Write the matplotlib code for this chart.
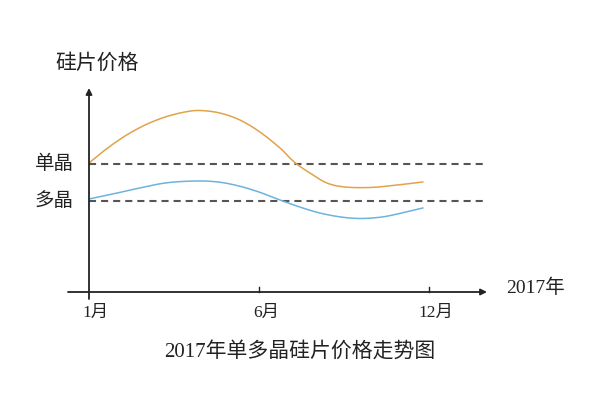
import matplotlib
matplotlib.use('Agg')
import matplotlib.pyplot as plt
import numpy as np

plt.rcParams['font.family'] = ['Liberation Serif', 'Noto Sans CJK SC', 'DejaVu Sans']

# x: position on time axis (1月=0, 6月=5, 12月=10), y: relative price level
mono_x = [0, 0.47, 1.06, 1.65, 2.24, 2.82, 3.26, 3.85, 4.44, 5.03, 5.62, 5.91, 6.15,
          6.5, 7.0, 7.53, 8.26, 8.94, 9.82]
mono_y = [12.9, 14.2, 15.6, 16.7, 17.5, 18.0, 18.15, 17.9, 17.2, 16.0, 14.4, 13.4, 12.7,
          11.9, 10.9, 10.5, 10.45, 10.65, 11.0]
poly_x = [0, 0.7, 1.35, 2.24, 3.12, 3.8, 4.41, 5.0, 5.62, 6.2, 6.79, 7.41, 7.97, 8.5, 8.94, 9.82]
poly_y = [9.3, 9.8, 10.3, 10.9, 11.1, 11.0, 10.6, 10.0, 9.2, 8.5, 7.9, 7.5, 7.35, 7.45, 7.7, 8.4]
ref_levels = [12.8, 9.1]
ref_labels = ['单晶', '多晶']
tick_pos = [0, 5, 10]
tick_labels = ['1月', '6月', '12月']


def smooth(xs, ys, n=20):
    """catmull-rom, only for drawing a soft curve through the read points"""
    p = np.column_stack([xs, ys])
    p = np.vstack([p[0], p, p[-1]])
    out = []
    for i in range(1, len(p) - 2):
        p0, p1, p2, p3 = p[i - 1], p[i], p[i + 1], p[i + 2]
        for t in np.linspace(0, 1, n, endpoint=False):
            t2, t3 = t * t, t * t * t
            out.append(0.5 * (2 * p1 + (-p0 + p2) * t + (2 * p0 - 5 * p1 + 4 * p2 - p3) * t2
                              + (-p0 + 3 * p1 - 3 * p2 + p3) * t3))
    out.append(p[-2])
    out = np.array(out)
    return out[:, 0], out[:, 1]


fig = plt.figure(figsize=(6, 3.99), dpi=100)
ax = fig.add_axes([89 / 600, 107 / 399, 398 / 600, 204 / 399])
ax.set_xlim(0, 11.71)
ax.set_ylim(0, 20.4)
for s in ax.spines.values():
    s.set_visible(False)
ax.set_xticks([])
ax.set_yticks([])

# dashed reference lines
for lv in ref_levels:
    ax.plot([0, 11.6], [lv, lv], color='#555555', lw=1.5, linestyle=(0, (3.4, 2.4)))

sx, sy = smooth(mono_x, mono_y)
ax.plot(sx, sy, color='#E2A24A', lw=1.1)
sx, sy = smooth(poly_x, poly_y)
ax.plot(sx, sy, color='#6CB3DD', lw=1.1)

# axes with arrows
ax.annotate('', xy=(1, 0), xytext=(-21 / 398, 0), xycoords='axes fraction',
            arrowprops=dict(arrowstyle='-|>', color='#222222', lw=1.3, mutation_scale=9,
                            shrinkA=0, shrinkB=0))
ax.annotate('', xy=(0, 1), xytext=(0, -7 / 204), xycoords='axes fraction',
            arrowprops=dict(arrowstyle='-|>', color='#222222', lw=1.3, mutation_scale=9,
                            shrinkA=0, shrinkB=0))

for p, lab in zip(tick_pos, tick_labels):
    if p > 0:
        ax.plot([p, p], [0, 0.5], color='#222222', lw=1.0, clip_on=False)
    ax.annotate(lab, xy=(p, 0), xytext=(5, -15), textcoords='offset points',
                ha='center', va='center', fontsize=12.5, color='#222222')

for lv, lab in zip(ref_levels, ref_labels):
    ax.annotate(lab, xy=(0, lv), xytext=(-11, 0), textcoords='offset points',
                ha='right', va='center', fontsize=14, color='#222222')

ax.annotate('硅片价格', xy=(0, 1), xycoords='axes fraction', xytext=(6, 17),
            textcoords='offset points', ha='center', va='center', fontsize=15, color='#222222')
ax.annotate('2017年', xy=(1, 0), xycoords='axes fraction', xytext=(35, 3),
            textcoords='offset points', ha='center', va='center', fontsize=14, color='#222222')

fig.text(0.5, 1 - 352 / 399, '2017年单多晶硅片价格走势图', ha='center', va='center',
         fontsize=15, color='#222222')

fig.savefig('out.png', dpi=100, facecolor='white')
